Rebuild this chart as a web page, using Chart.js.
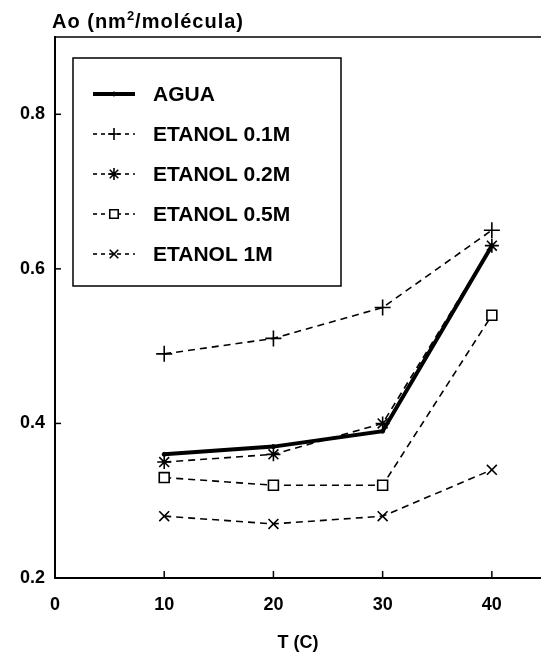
<!DOCTYPE html>
<html>
<head>
<meta charset="utf-8">
<script src="https://cdn.jsdelivr.net/npm/chart.js@4/dist/chart.umd.min.js"></script>
<style>
  html, body { margin: 0; padding: 0; background: #fff; }
  #wrap { width: 541px; height: 654px; }
</style>
</head>
<body>
<div id="wrap"><canvas id="chart" width="541" height="654"></canvas></div>
<script>
// Area per molecule vs temperature, water and ethanol solutions
const temps = [10, 20, 30, 40];
const agua = [0.36, 0.37, 0.39, 0.63];
const etanol01 = [0.49, 0.51, 0.55, 0.65];
const etanol02 = [0.35, 0.36, 0.40, 0.63];
const etanol05 = [0.33, 0.32, 0.32, 0.54];
const etanol1 = [0.28, 0.27, 0.28, 0.34];

const xTicks = [0, 10, 20, 30, 40];
const yTicks = [0.2, 0.4, 0.6, 0.8];

const FONT = "'Liberation Sans', Arial, sans-serif";

function pts(values) {
    return temps.map((t, i) => ({ x: t, y: values[i] }));
}

function dashed(label, values, pointStyle, radius) {
    return {
        label,
        data: pts(values),
        borderColor: '#000',
        backgroundColor: '#fff',
        borderWidth: 1.6,
        borderDash: [7, 5],
        pointStyle,
        pointRadius: radius,
        pointBorderWidth: 1.6,
        pointBorderColor: '#000',
        pointBackgroundColor: '#fff',
        tension: 0
    };
}

const datasets = [
    dashed('ETANOL 1M', etanol1, 'crossRot', 7),
    dashed('ETANOL 0.5M', etanol05, 'rect', 7),
    dashed('ETANOL 0.1M', etanol01, 'cross', 8),
    dashed('ETANOL 0.2M', etanol02, 'star', 7),
    {
        label: 'AGUA',
        data: pts(agua),
        borderColor: '#000',
        backgroundColor: '#000',
        borderWidth: 4,
        pointStyle: 'circle',
        pointRadius: 2,
        pointBorderWidth: 1,
        pointBackgroundColor: '#000',
        tension: 0
    }
];

const legendOrder = ['AGUA', 'ETANOL 0.1M', 'ETANOL 0.2M', 'ETANOL 0.5M', 'ETANOL 1M'];

// frame top line, inward tick marks, boxed legend and the y-axis caption
const decorations = {
    id: 'decorations',
    afterDraw(chart) {
        const { ctx, chartArea: a, scales } = chart;
        ctx.save();
        ctx.strokeStyle = '#000';

        ctx.lineWidth = 1.5;
        ctx.beginPath();
        ctx.moveTo(a.left, a.top);
        ctx.lineTo(a.right, a.top);
        ctx.stroke();

        scales.y.ticks.forEach(t => {
            const py = scales.y.getPixelForValue(t.value);
            if (Math.abs(py - a.bottom) < 1) return;
            ctx.beginPath();
            ctx.moveTo(a.left, py);
            ctx.lineTo(a.left + 6, py);
            ctx.stroke();
        });
        scales.x.ticks.forEach(t => {
            const px = scales.x.getPixelForValue(t.value);
            if (Math.abs(px - a.left) < 1) return;
            ctx.beginPath();
            ctx.moveTo(px, a.bottom);
            ctx.lineTo(px, a.bottom - 7);
            ctx.stroke();
        });

        // legend
        const box = { left: 73, top: 58, right: 341, bottom: 286 };
        ctx.fillStyle = '#fff';
        ctx.fillRect(box.left, box.top, box.right - box.left, box.bottom - box.top);
        ctx.lineWidth = 1.5;
        ctx.strokeRect(box.left, box.top, box.right - box.left, box.bottom - box.top);

        ctx.font = 'bold 21px ' + FONT;
        ctx.textBaseline = 'middle';
        ctx.textAlign = 'left';
        legendOrder.forEach((name, i) => {
            const ds = chart.data.datasets.find(d => d.label === name);
            const y = 94 + i * 40;
            ctx.save();
            ctx.lineWidth = ds.borderWidth;
            ctx.setLineDash(ds.borderDash ? [4, 4] : []);
            ctx.beginPath();
            ctx.moveTo(93, y);
            ctx.lineTo(135, y);
            ctx.stroke();
            ctx.setLineDash([]);
            ctx.fillStyle = ds.pointBackgroundColor;
            ctx.strokeStyle = '#000';
            ctx.lineWidth = ds.pointBorderWidth;
            Chart.helpers.drawPoint(ctx, {
                pointStyle: ds.pointStyle,
                radius: ds.pointStyle === 'circle' ? 2 : 6,
                rotation: 0,
                borderWidth: ds.pointBorderWidth
            }, 114, y);
            ctx.restore();
            ctx.fillStyle = '#000';
            ctx.fillText(name, 153, y + 1);
        });

        // y-axis caption with a raised exponent
        ctx.fillStyle = '#000';
        ctx.textBaseline = 'alphabetic';
        ctx.letterSpacing = '1px';
        let x = 52;
        const base = 28;
        ctx.font = 'bold 20px ' + FONT;
        ctx.fillText('Ao (nm', x, base);
        x += ctx.measureText('Ao (nm').width;
        ctx.font = 'bold 13px ' + FONT;
        ctx.fillText('2', x, base - 8);
        x += ctx.measureText('2').width;
        ctx.font = 'bold 20px ' + FONT;
        ctx.fillText('/molécula)', x, base);
        ctx.restore();
    }
};

Chart.defaults.font.family = FONT;
Chart.defaults.font.weight = 'bold';
Chart.defaults.font.size = 18;
Chart.defaults.color = '#000';

new Chart(document.getElementById('chart'), {
    type: 'line',
    data: { datasets },
    options: {
        responsive: false,
        animation: false,
        layout: { autoPadding: false, padding: { top: 37, left: 0, right: 0, bottom: 0 } },
        plugins: {
            legend: { display: false },
            tooltip: { enabled: false },
            title: { display: false }
        },
        scales: {
            x: {
                type: 'linear',
                min: 0,
                max: 44.5,
                afterBuildTicks: s => { s.ticks = xTicks.map(v => ({ value: v })); },
                afterFit: s => { s.height = 76; s.paddingLeft = 0; s.paddingRight = 0; },
                grid: { display: false, drawTicks: false },
                border: { display: true, color: '#000', width: 2 },
                ticks: {
                    padding: 16,
                    maxRotation: 0,
                    callback: v => String(v),
                    font: { size: 18, weight: 'bold' }
                },
                title: {
                    display: true,
                    text: 'T (C)',
                    font: { size: 18, weight: 'bold' },
                    padding: { top: 0, bottom: 0 }
                }
            },
            y: {
                type: 'linear',
                min: 0.2,
                max: 0.9,
                afterBuildTicks: s => { s.ticks = yTicks.map(v => ({ value: v })); },
                afterFit: s => { s.width = 55; s.paddingTop = 0; s.paddingBottom = 0; },
                grid: { display: false, drawTicks: false },
                border: { display: true, color: '#000', width: 2 },
                ticks: {
                    padding: 10,
                    callback: v => Number(v).toFixed(1),
                    font: { size: 18, weight: 'bold' }
                }
            }
        }
    },
    plugins: [decorations]
});
</script>
</body>
</html>
